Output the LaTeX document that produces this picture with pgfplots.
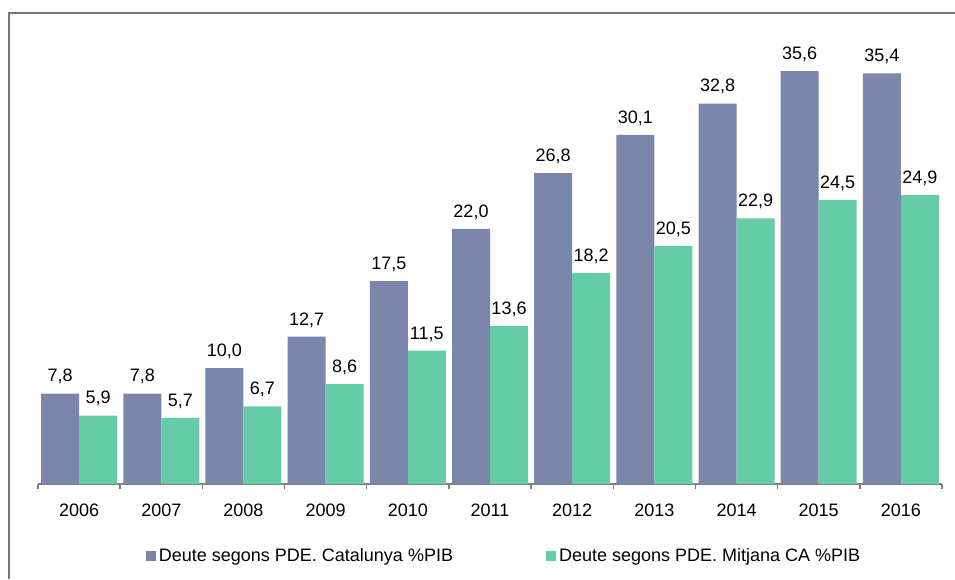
\documentclass[border=0pt]{standalone}
\usepackage{pgfplots}
\pgfplotsset{compat=1.18}
\usepackage{fontspec}
\setmainfont{Liberation Sans}
\definecolor{barblue}{HTML}{7A86AA}
\definecolor{bargreen}{HTML}{66CCA8}
\definecolor{framegray}{HTML}{777777}
\definecolor{axgray}{HTML}{808080}
\begin{document}
\begin{tikzpicture}
\useasboundingbox (0,0) rectangle (716.25pt,434.25pt);
\draw[framegray, line width=1.3pt] (6.75pt,0) -- (6.75pt,424.5pt) -- (720pt,424.5pt);
\begin{axis}[
  at={(28.5pt,71.25pt)}, anchor=south west,
  scale only axis,
  width=678pt, height=348pt,
  xmin=-0.5, xmax=10.5, ymin=0, ymax=40,
  ybar=0pt, bar width=28.5pt,
  hide y axis,
  axis x line*=bottom,
  x axis line style={axgray, line width=1.1pt, -},
  xtick={0,...,10},
  xticklabels={2006,2007,2008,2009,2010,2011,2012,2013,2014,2015,2016},
  major x tick style={draw=none},
  minor xtick={-0.5,0.5,...,10.5},
  minor tick length=4pt,
  minor x tick style={axgray, line width=1.1pt},
  tick align=outside,
  xticklabel style={anchor=base, yshift=-20pt, font=\fontsize{13.5}{16}\selectfont},
  nodes near coords,
  /pgf/number format/.cd, fixed, fixed zerofill, precision=1, use comma, assume math mode=true,
  /pgfplots/.cd,
  every node near coord/.append style={anchor=base, yshift=8.7pt, font=\fontsize{13.5}{16}\selectfont, text=black},
  legend columns=2,
  legend style={draw=none, at={(0.115,-0.155)}, anchor=west, font=\fontsize{13.5}{16}\selectfont,
    /tikz/every even column/.append style={column sep=68pt}},
  legend image code/.code={\fill[#1] (0pt,-3.75pt) rectangle (7.5pt,3.75pt);},
]
\addplot[fill=barblue, draw=none] coordinates {(0,7.8) (1,7.8) (2,10.0) (3,12.7) (4,17.5) (5,22.0) (6,26.8) (7,30.1) (8,32.8) (9,35.6) (10,35.4)};
\addplot[fill=bargreen, draw=none] coordinates {(0,5.9) (1,5.7) (2,6.7) (3,8.6) (4,11.5) (5,13.6) (6,18.2) (7,20.5) (8,22.9) (9,24.5) (10,24.9)};
\legend{Deute segons PDE. Catalunya \%PIB, Deute segons PDE. Mitjana CA \%PIB}
\end{axis}
\end{tikzpicture}
\end{document}
